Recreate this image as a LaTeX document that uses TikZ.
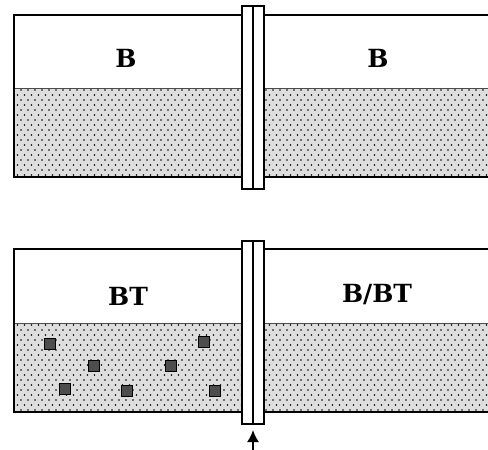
\documentclass[tikz,border=0pt]{standalone}
\usepackage{fontspec}
\newfontfamily\labelfont{DejaVu Serif}
\usepackage{tikz}
\usetikzlibrary{arrows.meta, patterns, positioning}
\usepackage{xcolor}
\definecolor{sandgray}{RGB}{222,222,222}
\definecolor{grainfill}{RGB}{77,77,77}

% staggered fine dots for the bed
\pgfdeclarepatternformonly{sanddots}{\pgfqpoint{-1pt}{-1pt}}{\pgfqpoint{4.5pt}{6pt}}{\pgfqpoint{3.5pt}{5pt}}{
  \pgfpathcircle{\pgfqpoint{0pt}{0pt}}{0.42pt}
  \pgfpathcircle{\pgfqpoint{1.75pt}{2.5pt}}{0.42pt}
  \pgfusepath{fill}
}

\tikzset{
  bed/.style={fill=sandgray, postaction={pattern=sanddots}},
  wall/.style={line width=1pt},
  gate/.style={draw, fill=white, line width=1pt, minimum width=11pt, minimum height=91.5pt, inner sep=0pt},
  grain/.style={draw, fill=grainfill, line width=0.5pt, minimum size=5.5pt, inner sep=0pt},
  tanklabel/.style={font=\labelfont\bfseries\fontsize{12.5}{15}\selectfont}
}

\begin{document}
\begin{tikzpicture}[x=0.5pt, y=-0.5pt]
\useasboundingbox (0,0) rectangle (488,450);

% Upper channel
\path[bed] (14,88) rectangle (488,177);
\draw[gray!60!black, line width=0.5pt] (14,88) -- (488,88);
\draw[wall] (488,15) -- (14,15) -- (14,177) -- (488,177);
\node[gate] (gateA) at (253,97.5) {};
\draw[line width=0.6pt] (gateA.north) -- (gateA.south);

\node[tanklabel] (leftA) at (126,58) {B};
\node[tanklabel] (rightA) at (378,58) {B};

% Lower channel
\path[bed] (14,323) rectangle (488,412);
\draw[gray!60!black, line width=0.5pt] (14,323) -- (488,323);
\draw[wall] (488,249) -- (14,249) -- (14,412) -- (488,412);
\node[gate] (gateB) at (253,332.5) {};
\draw[line width=0.6pt] (gateB.north) -- (gateB.south);

\node[tanklabel] (leftB) at (128,296) {BT};
\node[tanklabel] (rightB) at (377,295) {B/BT};

% Grains in the left bed
\foreach \gx/\gy [count=\i] in {50/344, 94/366, 65/389, 127/391, 171/366, 204/342, 215/391} {
    \node[grain] (grain\i) at (\gx,\gy) {};
}

% Opening arrow
\coordinate (push) at (253,450);
\draw[-{Latex[length=6pt,width=6pt]}, line width=1pt, shorten >=2.5pt] (push) -- (gateB.south);

\end{tikzpicture}
\end{document}
